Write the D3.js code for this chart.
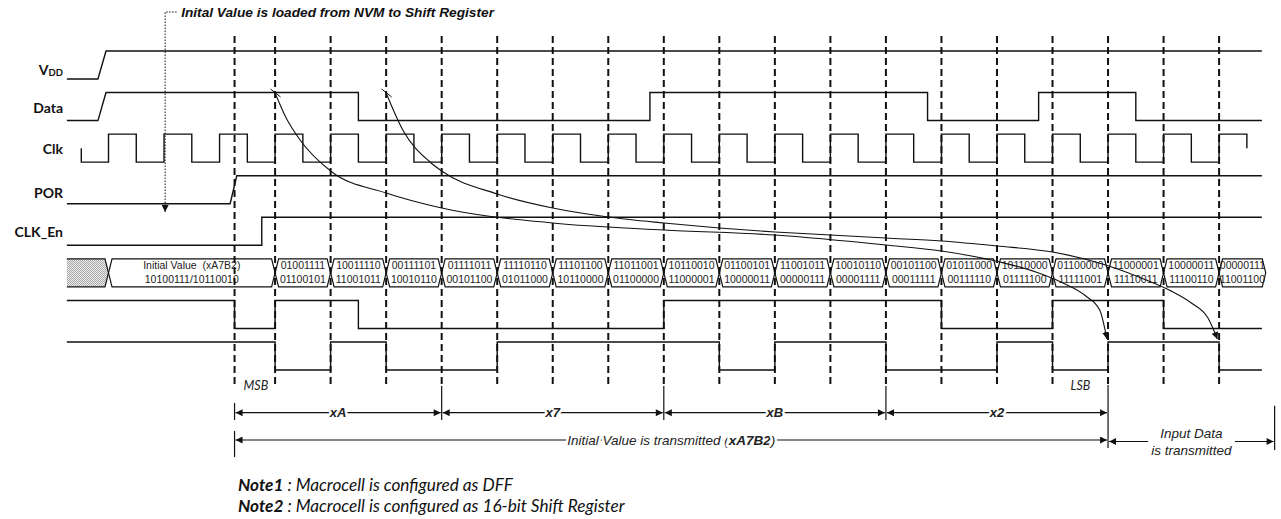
<!DOCTYPE html>
<html><head><meta charset="utf-8">
<script src="https://cdn.jsdelivr.net/npm/d3@7"></script>
<style>body{margin:0;background:#fff} svg{display:block}</style>
</head><body><svg id="c" width="1281" height="519"></svg>
<script>
// ---------- data (time in clock periods) ----------
const signalNames = ["VDD","Data","Clk","POR","CLK_En"];
const vddWave  = [[-0.75,0],[-0.19,0],[-0.045,1],[20.77,1]];
const dataWave = [[-0.75,0],[-0.19,0],[-0.045,1],[4.5,1],[4.5,0],[9.75,0],[9.75,1],[14.75,1],[14.75,0],[16.75,0],[16.75,1],[18.5,1],[18.5,0],[20.77,0]];
const clkStart = -0.49;
const clkToggles = [0,0.5,1,1.5,2,2.5,3,3.5,4,4.5,5,5.5,6,6.5,7,7.5,8,8.5,9,9.5,10,10.5,11,11.5,12,12.5,13,13.5,14,14.5,15,15.5,16,16.5,17,17.5,18,18.5,19,19.5,20,20.5];
const porWave  = [[-0.75,0],[2.19,0],[2.31,1],[20.77,1]];
const clkEnWave= [[-0.75,0],[2.76,0],[2.76,1],[20.77,1]];
const q1Wave = [[-0.75,1],[2.27,1],[2.27,0],[3,0],[3,1],[4.5,1],[4.5,0],[10,0],[10,1],[15,1],[15,0],[17,0],[17,1],[19,1],[19,0],[20.77,0]];
const q2Wave = [[-0.75,1],[3,1],[3,0],[4,0],[4,1],[5,1],[5,0],[7,0],[7,1],[11,1],[11,0],[12,0],[12,1],[14,1],[14,0],[16,0],[16,1],[17,1],[17,0],[18,0],[18,1],[20,1],[20,0],[20.77,0]];
const dashTimes = [2.27,3,4,5,6,7,8,9,10,11,12,13,14,15,16,17,18,19,20];
const initLabel = ["Initial Value\u00a0\u00a0(xA7B2)","10100111/10110010"];
const busTop = ["01001111","10011110","00111101","01111011","11110110","11101100","11011001","10110010","01100101","11001011","10010110","00101100","01011000","10110000","01100000","11000001","10000011","00000111"];
const busBottom = ["01100101","11001011","10010110","00101100","01011000","10110000","01100000","11000001","10000011","00000111","00001111","00011111","00111110","01111100","11111001","11110011","11100110","11001100"];
const busFirst = 3, busEnd = 20.84, hatchStart = -0.75, initStart = 0;
const nibbleSpans = [[2.27,6,"xA"],[6,10,"x7"],[10,14,"xB"],[14,18,"x2"]];
const totalSpan = [2.27,18];
const inputSpan = [18,21];
const curve1 = [[3,93],[3.2,118],[3.45,140],[4,171],[5,193],[6,208],[8,223],[10,230],[12,235],[14,245],[15,251],[16.05,262],[16.7,272],[17.19,283],[17.6,296],[17.85,310],[17.98,339]];
const curve2 = [[5,93],[5.3,130],[5.79,162],[6,171],[7,194],[8,208],[9,217],[10,223],[11,228],[12,232],[13,235],[14,238],[15,241],[16,246],[17,252],[17.9,264],[18.6,278],[19.1,290],[19.5,303],[19.8,318],[19.97,339]];

// ---------- scales ----------
const svg = d3.select("#c");
const x = d3.scaleLinear().domain([0,20]).range([108.5,1219.1]);
const rows = ["VDD","Data","Clk","POR","CLK_En","Bus","Q1","Q2"];
const y = d3.scalePoint().domain(rows).range([65,356]);
const SW = 14;
const yl = (r,v) => y(r) + SW - 2*SW*v;
const ink = "#111";

const defs = svg.append("defs");
const pat = defs.append("pattern").attr("id","dots").attr("width",2).attr("height",2).attr("patternUnits","userSpaceOnUse");
pat.append("rect").attr("width",2).attr("height",2).attr("fill","#ececec");
pat.append("rect").attr("width",1).attr("height",1).attr("fill","#a8a8a8");
pat.append("rect").attr("x",1).attr("y",1).attr("width",1).attr("height",1).attr("fill","#a8a8a8");
function marker(id, w, h){
  defs.append("marker").attr("id",id).attr("viewBox","0 0 10 10").attr("refX",10).attr("refY",5)
    .attr("markerWidth",w).attr("markerHeight",h).attr("markerUnits","userSpaceOnUse")
    .attr("orient","auto-start-reverse")
    .append("path").attr("d","M0,0L10,5L0,10Z").attr("fill",ink);
}
marker("arr",9,7);
marker("arrS",7,7);

// ---------- labels ----------
const lab = svg.append("g").attr("font-family","Lato, 'Noto Sans', sans-serif").attr("font-weight","bold").attr("font-size",14).attr("fill",ink).attr("text-anchor","end");
signalNames.forEach(n=>{
  const dy = n==="VDD"?10:(n==="POR"?8:6);
  const t = lab.append("text").attr("x",63).attr("y",y(n)+dy);
  if(n==="VDD"){ t.append("tspan").text("V"); t.append("tspan").attr("font-size",9.5).attr("dy",1).text("DD"); }
  else t.text(n);
});

// ---------- waveforms ----------
const wave = r => d3.line().x(d=>x(d[0])).y(d=>yl(r,d[1]));
const wg = svg.append("g").attr("fill","none").attr("stroke",ink).attr("stroke-width",1.4);
[["VDD",vddWave],["Data",dataWave],["POR",porWave],["CLK_En",clkEnWave],["Q1",q1Wave],["Q2",q2Wave]].forEach(([r,w])=>{
  wg.append("path").attr("d",wave(r)(w));
});
const clkPts = [[clkStart,0.5],[clkStart,0]];
let lv = 0;
clkToggles.forEach(t=>{ clkPts.push([t,lv]); lv = 1-lv; clkPts.push([t,lv]); });
clkPts[clkPts.length-1][1] = 0.5;
wg.append("path").attr("d",wave("Clk")(clkPts));

// ---------- bus ----------
const bg = svg.append("g");
const bt = y("Bus")-SW, bb = y("Bus")+SW, bm = y("Bus"), d = 3.5;
const hex = (a,b)=>`M${a},${bm}L${a+d},${bt}L${b-d},${bt}L${b},${bm}L${b-d},${bb}L${a+d},${bb}Z`;
bg.append("path").attr("d",`M${x(hatchStart)},${bt}L${x(initStart)-d},${bt}L${x(initStart)},${bm}L${x(initStart)-d},${bb}L${x(hatchStart)},${bb}Z`).attr("fill","url(#dots)").attr("stroke","none");
bg.append("path").attr("d",`M${x(hatchStart)},${bt}L${x(initStart)-d},${bt}L${x(initStart)},${bm}L${x(initStart)-d},${bb}L${x(hatchStart)},${bb}`).attr("fill","none").attr("stroke",ink).attr("stroke-width",1.2);
const cells = [{a:initStart,b:busFirst,t:initLabel[0],u:initLabel[1]}];
busTop.forEach((s,i)=>cells.push({a:busFirst+i,b:Math.min(busFirst+i+1,busEnd),t:s,u:busBottom[i]}));
bg.selectAll("path.cell").data(cells).join("path").attr("class","cell")
  .attr("d",c=>hex(x(c.a),x(c.b))).attr("fill","#fff").attr("stroke",ink).attr("stroke-width",1.2);
const tg = bg.append("g").attr("font-family","'Liberation Sans', Arial, sans-serif").attr("font-size",10.5).attr("fill","#222").attr("text-anchor","middle");
tg.selectAll("text.t").data(cells).join("text").attr("class","t").attr("x",c=>(x(c.a)+x(c.b))/2).attr("y",bm-3.5).text(c=>c.t);
tg.selectAll("text.u").data(cells).join("text").attr("class","u").attr("x",c=>(x(c.a)+x(c.b))/2).attr("y",bm+10).text(c=>c.u);

// ---------- dashed guides ----------
svg.append("g").attr("stroke",ink).attr("stroke-width",2).attr("stroke-dasharray","7,4")
  .selectAll("line").data(dashTimes).join("line")
  .attr("x1",t=>x(t)).attr("x2",t=>x(t)).attr("y1",36).attr("y2",385);

// MSB / LSB
const it = svg.append("g").attr("font-family","Lato, sans-serif").attr("font-style","italic").attr("font-size",12.5).attr("fill","#222");
it.append("text").attr("x",x(2.27)+9).attr("y",390).text("MSB");
it.append("text").attr("x",x(17)+18).attr("y",390).text("LSB");

// ---------- dimension lines ----------
const dg = svg.append("g").attr("stroke",ink).attr("stroke-width",1.2);
const dimY1 = 412.7, dimY2 = 440, dimY3 = 441.5;
[[2.27,403,420],[2.27,431,457],[6,386,420],[10,386,420],[14,386,420],[18,385,448],[21,405.7,450]].forEach(([t,a,b])=>{
  dg.append("line").attr("x1",x(t)).attr("x2",x(t)).attr("y1",a).attr("y2",b);
});
nibbleSpans.forEach(([a,b])=>{
  dg.append("line").attr("x1",x(a)+1).attr("x2",x(b)-1).attr("y1",dimY1).attr("y2",dimY1)
    .attr("marker-start","url(#arr)").attr("marker-end","url(#arr)");
});
dg.append("line").attr("x1",x(totalSpan[0])+1).attr("x2",x(totalSpan[1])-1).attr("y1",dimY2).attr("y2",dimY2)
  .attr("marker-start","url(#arr)").attr("marker-end","url(#arr)");
dg.append("line").attr("x1",x(inputSpan[0])+1).attr("x2",x(inputSpan[1])-1).attr("y1",dimY3).attr("y2",dimY3)
  .attr("marker-start","url(#arr)").attr("marker-end","url(#arr)");

const lg = svg.append("g").attr("font-family","'Liberation Sans', Arial, sans-serif").attr("font-style","italic").attr("fill","#222").attr("text-anchor","middle")
  .attr("stroke","#fff").attr("stroke-width",5).attr("paint-order","stroke").attr("stroke-linejoin","round");
nibbleSpans.forEach(([a,b,l])=>{
  lg.append("text").attr("x",(x(a)+x(b))/2).attr("y",dimY1+4.5).attr("font-weight","bold").attr("font-size",13).text(l);
});
const tt = lg.append("text").attr("x",(x(totalSpan[0])+x(totalSpan[1]))/2).attr("y",dimY2+5).attr("font-size",13.5);
tt.append("tspan").text("Initial Value is transmitted (");
tt.append("tspan").attr("font-weight","bold").text("xA7B2");
tt.append("tspan").text(")");
const ix = (x(inputSpan[0])+x(inputSpan[1]))/2;
const t2 = lg.append("text").attr("x",ix).attr("y",dimY3+13.5).attr("font-size",13.5).text("is transmitted");
const bx = t2.node().getBBox();
lg.insert("rect",":first-child").attr("x",bx.x-3).attr("y",dimY3-4).attr("width",bx.width+6).attr("height",8).attr("fill","#fff").attr("stroke","none");
lg.append("text").attr("x",ix).attr("y",dimY3-4).attr("font-size",13.5).text("Input Data");

// ---------- curved arrows ----------
const cl = d3.line().x(d=>x(d[0])).y(d=>d[1]).curve(d3.curveMonotoneX);
const cg = svg.append("g").attr("fill","none");
[curve1,curve2].forEach(c=>{
  cg.append("path").attr("d",cl(c)).attr("stroke",ink).attr("stroke-width",1.1).attr("marker-end","url(#arrS)");
  const sx = x(c[0][0]), sy = c[0][1];
  cg.append("line").attr("x1",sx-4.5).attr("y1",sy-4).attr("x2",sx+5.5).attr("y2",sy+4).attr("stroke",ink).attr("stroke-width",1);
});

// ---------- top annotation ----------
const ax = x(1.02);
svg.append("path").attr("d",`M${ax},212L${ax},12L${ax+13},12`).attr("fill","none").attr("stroke",ink)
  .attr("stroke-width",1).attr("stroke-dasharray","1.5,1.5").attr("marker-start","url(#arrS)");
svg.append("text").attr("x",ax+16).attr("y",16.5).attr("font-family","'Liberation Sans', Arial, sans-serif")
  .attr("font-size",13.7).attr("font-weight","bold").attr("font-style","italic").attr("fill","#111")
  .text("Inital Value is loaded from NVM to Shift Register");

// ---------- notes ----------
const ng = svg.append("g").attr("font-family","Lato, sans-serif").attr("font-style","italic").attr("font-size",17.2).attr("fill","#111");
[["Note1"," : Macrocell is configured as DFF",491],["Note2"," : Macrocell is configured as 16-bit Shift Register",512]].forEach(([a,b,yy])=>{
  const t = ng.append("text").attr("x",238).attr("y",yy);
  t.append("tspan").attr("font-weight","bold").text(a);
  t.append("tspan").text(b.replace(/^ /,"\u00a0"));
});
</script></body></html>
